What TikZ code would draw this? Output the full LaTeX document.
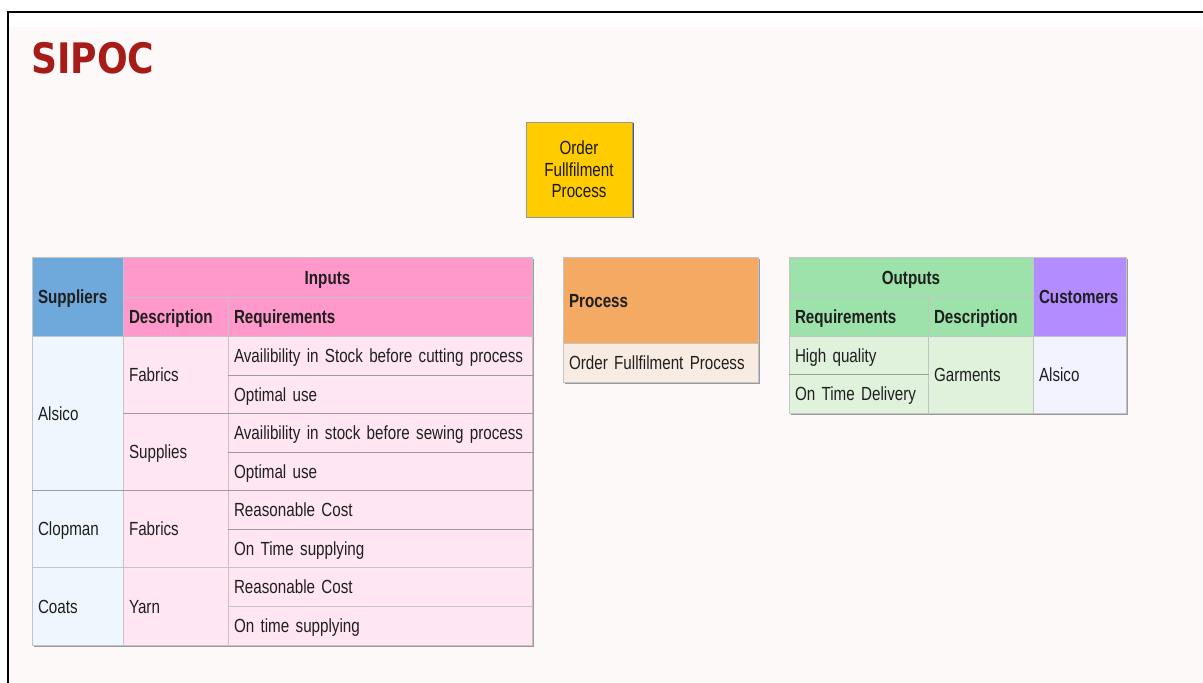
\documentclass[tikz,border=0pt]{standalone}
\usepackage{fontspec}
\setmainfont{Liberation Sans}[FakeStretch=0.80]
\newfontfamily\titlefont{DejaVu Sans}[FakeStretch=0.86]
\definecolor{pagebg}{HTML}{FDF9F8}
\definecolor{titlered}{HTML}{A51C18}
\definecolor{cellline}{HTML}{C4C4C4}
\definecolor{sepline}{HTML}{9C9C9C}
\definecolor{shadowgray}{HTML}{9A9A9A}
\definecolor{supblue}{HTML}{6FA8DA}
\definecolor{suplight}{HTML}{EEF7FD}
\definecolor{inpink}{HTML}{FF99CC}
\definecolor{inlight}{HTML}{FFE6F2}
\definecolor{procorange}{HTML}{F4AA62}
\definecolor{proclight}{HTML}{F8ECE2}
\definecolor{outgreen}{HTML}{9DE2AA}
\definecolor{outlight}{HTML}{E0F2DC}
\definecolor{custpurple}{HTML}{B38CFF}
\definecolor{custlight}{HTML}{F3F3FF}
\definecolor{ordery}{HTML}{FFCC00}
\tikzset{
  cell/.style={draw=cellline, line width=1pt, inner xsep=6pt, inner ysep=0pt,
    align=left, font={\fontsize{19}{22}\selectfont\spaceskip=3.6pt\relax}, text=black!88,
    text height=16.5pt, text depth=2pt},
  headtxt/.style={font={\fontsize{19}{22}\selectfont\bfseries\spaceskip=3.6pt\relax}},
  ctr/.style={align=center},
  sep/.style={draw=sepline, line width=1.2pt},
  shadow/.style={fill=shadowgray},
}
\newcommand\mkcell[8]{%
  \pgfmathsetmacro\cellw{#4-#2}%
  \pgfmathsetmacro\cellh{#5-#3}%
  \pgfmathsetmacro\celltw{#4-#2-12}%
  \pgfmathsetmacro\cellx{(#2+#4)/2}%
  \pgfmathsetmacro\celly{(#3+#5)/2}%
  \node[cell, fill=#6, minimum width=\cellw pt, minimum height=\cellh pt,
    text width=\celltw pt, #7] (#1) at (\cellx,\celly) {\mbox{#8}};}
\begin{document}
\begin{tikzpicture}[x=1pt, y=-1pt]
\useasboundingbox (0,0) rectangle (1203,683);
% page
\fill[white] (0,0) rectangle (1203,683);
\fill[pagebg] (9,27) rectangle (1203,683);
\draw[line width=2pt, black] (8,683) -- (8,12) -- (1203,12);
% title
\node[anchor=base west, inner sep=0pt, text=titlered,
  font=\titlefont\bfseries\fontsize{42}{46}\selectfont] (title) at (31,73) {SIPOC};
% order box
\fill[black!65] (528,123) rectangle (634,218);
\node[draw=black!40, line width=0.8pt, fill=ordery, minimum width=106pt, minimum height=95pt,
  inner sep=0pt, align=center, font=\fontsize{19}{21.5}\selectfont, text=black!90]
  (order) at (579,169.5) {Order\\Fullfilment\\Process};
% ---------------- left table ----------------
\fill[shadow] (34,259) rectangle (534,647);
\mkcell{suph}{32}{257}{123}{336}{supblue}{headtxt}{Suppliers}
\mkcell{inh}{123}{257}{532}{297}{inpink}{headtxt,ctr}{Inputs}
\mkcell{desch}{123}{297}{228}{336}{inpink}{headtxt}{Description}
\mkcell{reqh}{228}{297}{532}{336}{inpink}{headtxt}{Requirements}
\mkcell{alsico}{32}{336}{123}{490}{suplight}{}{Alsico}
\mkcell{clopman}{32}{490}{123}{567}{suplight}{}{Clopman}
\mkcell{coats}{32}{567}{123}{645}{suplight}{}{Coats}
\mkcell{fab1}{123}{336}{228}{413}{inlight}{}{Fabrics}
\mkcell{supp}{123}{413}{228}{490}{inlight}{}{Supplies}
\mkcell{fab2}{123}{490}{228}{567}{inlight}{}{Fabrics}
\mkcell{yarn}{123}{567}{228}{645}{inlight}{}{Yarn}
\mkcell{r1}{228}{336}{532}{375}{inlight}{}{Availibility in Stock before cutting process}
\mkcell{r2}{228}{375}{532}{413}{inlight}{}{Optimal use}
\mkcell{r3}{228}{413}{532}{452}{inlight}{}{Availibility in stock before sewing process}
\mkcell{r4}{228}{452}{532}{490}{inlight}{}{Optimal use}
\mkcell{r5}{228}{490}{532}{529}{inlight}{}{Reasonable Cost}
\mkcell{r6}{228}{529}{532}{567}{inlight}{}{On Time supplying}
\mkcell{r7}{228}{567}{532}{606}{inlight}{}{Reasonable Cost}
\mkcell{r8}{228}{606}{532}{645}{inlight}{}{On time supplying}
\draw[sep] (r1.south west) -- (r1.south east);
\draw[sep] (fab1.south west) -- (r2.south east);
\draw[sep] (r3.south west) -- (r3.south east);
\draw[sep] (alsico.south west) -- (r4.south east);
\draw[sep] (r5.south west) -- (r5.south east);
% ---------------- process table ----------------
\fill[shadow] (565,259) rectangle (760,384);
\mkcell{proch}{563}{257}{758}{343}{procorange}{headtxt}{Process}
\mkcell{procb}{563}{343}{758}{382}{proclight}{}{Order Fullfilment Process}
% ---------------- outputs table ----------------
\fill[shadow] (791,259) rectangle (1128,415);
\mkcell{outh}{789}{257}{1033}{297}{outgreen}{headtxt,ctr}{Outputs}
\mkcell{custh}{1033}{257}{1126}{336}{custpurple}{headtxt}{Customers}
\mkcell{oreqh}{789}{297}{928}{336}{outgreen}{headtxt}{Requirements}
\mkcell{odesch}{928}{297}{1033}{336}{outgreen}{headtxt}{Description}
\mkcell{hq}{789}{336}{928}{374}{outlight}{}{High quality}
\mkcell{otd}{789}{374}{928}{413}{outlight}{}{On Time Delivery}
\mkcell{garm}{928}{336}{1033}{413}{outlight}{}{Garments}
\mkcell{custb}{1033}{336}{1126}{413}{custlight}{}{Alsico}
\draw[sep] (hq.south west) -- (hq.south east);
\end{tikzpicture}
\end{document}
